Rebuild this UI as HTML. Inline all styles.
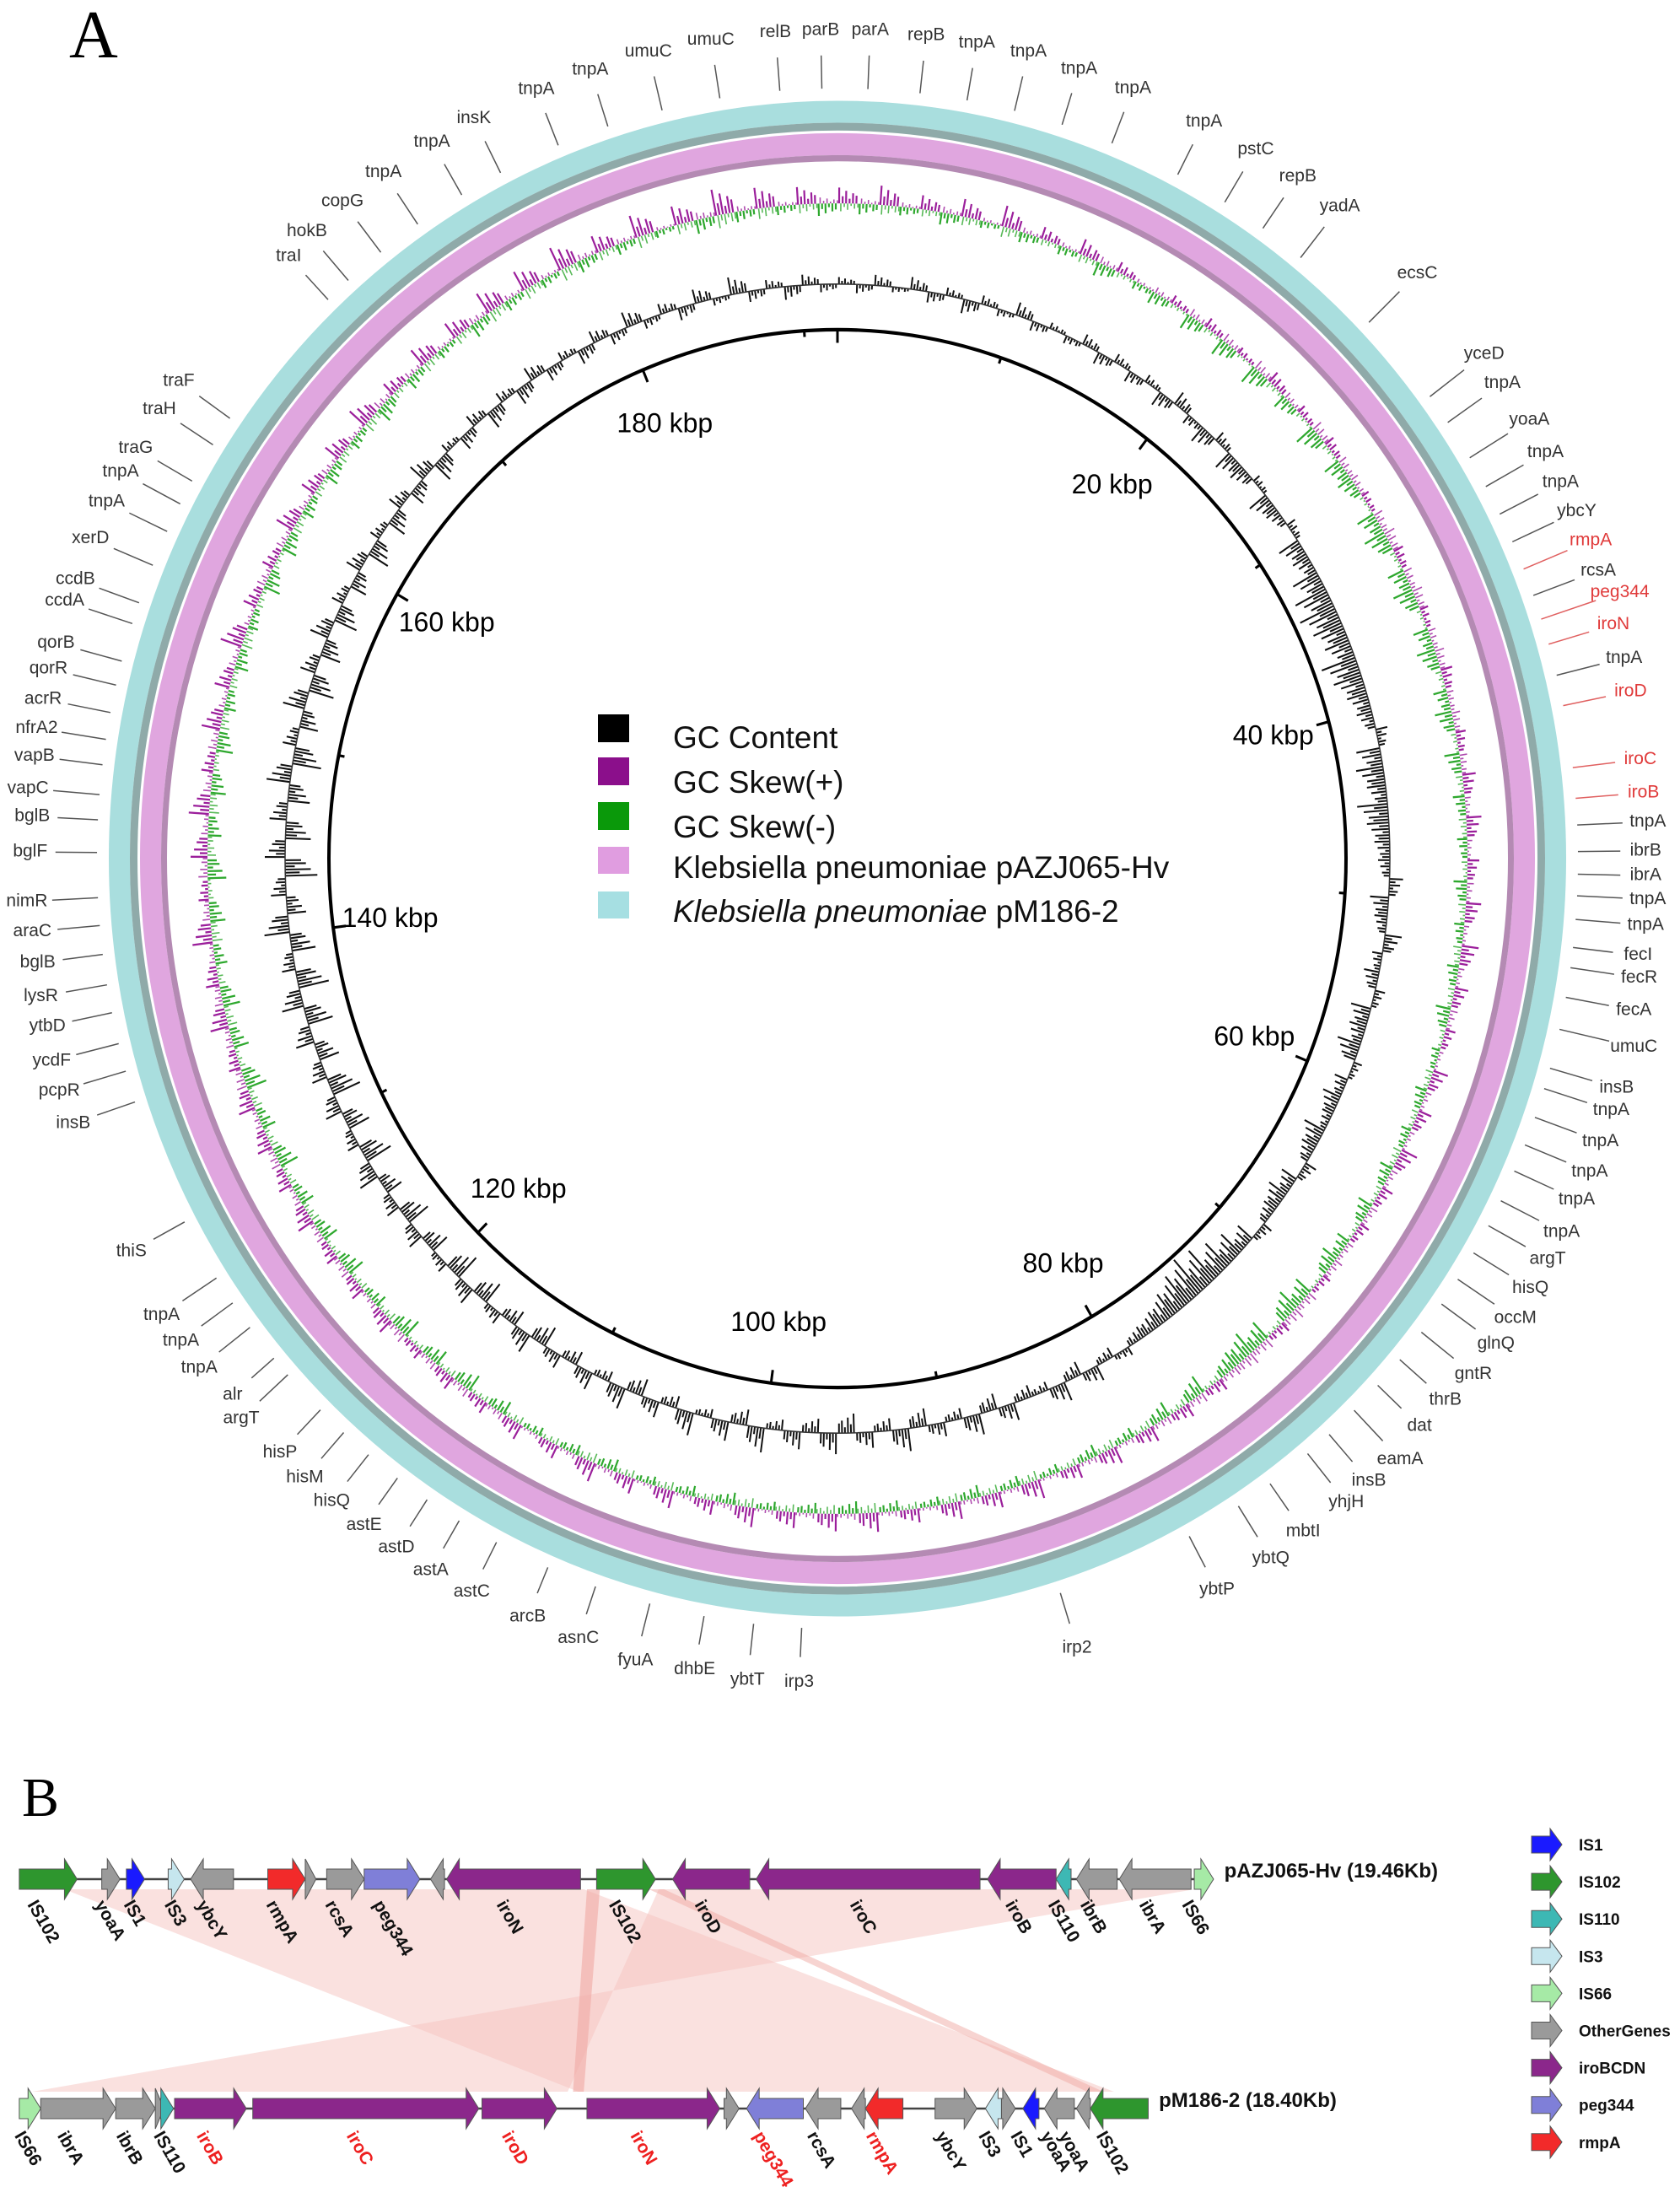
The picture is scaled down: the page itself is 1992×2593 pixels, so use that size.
<!DOCTYPE html>
<html><head><meta charset="utf-8"><style>
html,body{margin:0;padding:0;background:#fff;}
svg{display:block;font-family:"Liberation Sans",sans-serif;}
</style></head><body>
<svg id="fig" width="1992" height="2593" viewBox="0 0 1992 2593" xmlns="http://www.w3.org/2000/svg">
<text x="82" y="68" font-family="Liberation Serif,serif" font-size="80">A</text>
<text x="26" y="2153" font-family="Liberation Serif,serif" font-size="66">B</text>
<g id="circ" transform="translate(993,1018) scale(1,1.04)">
<circle r="851.5" fill="none" stroke="#a9dede" stroke-width="25"/>
<circle r="834.5" fill="none" stroke="#8faaa9" stroke-width="9"/>
<circle r="814.5" fill="none" stroke="#e0a6df" stroke-width="25"/>
<circle r="798.5" fill="none" stroke="#b48ab3" stroke-width="7"/>
<circle r="603" fill="none" stroke="#000" stroke-width="4"/>
<g id="gcg"></g><g id="skg"></g><g id="tk"></g>
</g>
<g id="ticklabels"></g>
<g id="legendA">
<rect x="709" y="847" width="37" height="33" fill="#000"/>
<rect x="709" y="898" width="37" height="33" fill="#8b0f8b"/>
<rect x="709" y="951" width="37" height="33" fill="#0a990a"/>
<rect x="709" y="1004" width="37" height="32" fill="#e09de0"/>
<rect x="709" y="1057" width="37" height="32" fill="#a6dfe2"/>
<g font-size="37" fill="#111">
<text x="798" y="887">GC Content</text>
<text x="798" y="940">GC Skew(+)</text>
<text x="798" y="993">GC Skew(-)</text>
<text x="798" y="1041">Klebsiella pneumoniae pAZJ065-Hv</text>
<text x="798" y="1093"><tspan font-style="italic">Klebsiella pneumoniae</tspan> pM186-2</text>
</g></g>
<g id="genelabels"></g>
<g id="panelB"></g>
</svg>
<script>
const NS="http://www.w3.org/2000/svg";
const CX=993,CY=1018,SY=1.04,TOTAL=192;
const gcValues=[8,-10,12,-6,14,-12,9,-16,10,-8,15,-11,7,-9,12,-14,
10,-13,9,-17,16,-11,-20,12,-22,-18,9,-24,-15,11,-26,-20,
-32,-40,-44,-36,-30,-42,-34,-24,-18,14,-28,-32,-22,-36,-26,-18,
-14,16,-22,-15,20,-12,-18,12,-24,-20,-28,10,-16,-22,-13,-26,
-18,14,-20,-24,-16,12,-22,-30,-36,-44,-48,-40,-30,-20,-14,10,
-12,18,-16,22,-10,-14,20,-18,24,-12,16,-20,26,-14,18,-22,
24,-16,20,-12,28,-18,22,-10,26,-14,18,-20,24,-12,20,-16,
16,-24,22,-18,14,-26,20,-30,12,-22,18,-28,16,-20,24,-32,
14,-26,20,-34,18,-24,22,-30,26,-36,16,-28,30,-22,18,-38,
24,-30,20,-26,28,-34,16,-22,26,-30,18,-24,22,-28,14,-20,
18,-26,12,-22,16,-18,20,-24,10,-16,14,-20,12,-18,16,-14,
10,-16,14,-12,18,-10,12,-14,16,-8,20,-12,10,-15,12,-9];
const skewValues=[18,-12,22,-10,16,-14,20,-8,24,-12,14,-10,18,-16,12,-9,
-14,10,-18,12,-20,8,-22,14,-16,10,-24,12,-20,-18,9,-22,
-26,12,-20,-24,10,-18,-22,14,-16,-20,12,-18,16,-14,18,-12,
14,-16,18,-12,20,-14,16,-18,12,-10,18,-14,16,-12,20,-16,
14,-18,12,-16,-20,10,-22,-26,12,-24,-28,-20,14,-22,16,-18,
18,-12,20,-14,16,-10,22,-12,18,-14,20,-10,16,-12,22,-14,
20,-12,18,-10,22,-14,16,-12,20,-10,18,-14,22,-12,16,-10,
18,-16,14,-20,16,-18,12,-22,18,-14,16,-20,14,-18,20,-16,
16,-22,18,-16,20,-24,14,-18,22,-20,16,-14,24,-18,12,-22,
20,-16,24,-18,14,-20,22,-14,18,-16,26,-12,16,-20,14,-18,
22,-14,18,-16,20,-12,24,-18,16,-14,22,-10,20,-16,26,-12,
24,-10,28,-14,20,-12,26,-8,22,-16,30,-12,24,-10,20,-14];
const tickKbp=[20,40,60,80,100,120,140,160,180];
const tickText=["20 kbp","40 kbp","60 kbp","80 kbp","100 kbp","120 kbp","140 kbp","160 kbp","180 kbp"];
function ang(kbp){return kbp/TOTAL*2*Math.PI;}
function pt(r,a){return [r*Math.sin(a),-r*Math.cos(a)];}
const SUB=[1,0.45,0.8,0.3,0.65,0.5];
function spikes(r,v,a0,a1){let d="";SUB.forEach((f,j)=>{const a=a0+(a1-a0)*(j+0.5)/SUB.length;const p=pt(r,a),q=pt(r+v*f,a);d+=`M${p[0].toFixed(1)},${p[1].toFixed(1)}L${q[0].toFixed(1)},${q[1].toFixed(1)}`;});return d;}
const gcg=document.getElementById("gcg"),skg=document.getElementById("skg"),tk=document.getElementById("tk");
const binW=TOTAL/gcValues.length;
gcValues.forEach((v,i)=>{const a0=ang(i*binW),a1=ang((i+1)*binW);
const p=document.createElementNS(NS,"path");p.setAttribute("d",spikes(655,v,a0,a1));
p.setAttribute("stroke","#111");p.setAttribute("stroke-width","2");p.setAttribute("fill","none");


gcg.appendChild(p);});
const base=document.createElementNS(NS,"circle");base.setAttribute("r","655");base.setAttribute("fill","none");base.setAttribute("stroke","#333");base.setAttribute("stroke-width","1.5");gcg.appendChild(base);
const sW=TOTAL/skewValues.length;
skewValues.forEach((v,i)=>{const a0=ang(i*sW),a1=ang((i+1)*sW);
const p=document.createElementNS(NS,"path");p.setAttribute("d",spikes(747,v,a0,a1));
p.setAttribute("stroke",v>0?"#9b1f9b":"#2ea82e");p.setAttribute("stroke-width","2.2");p.setAttribute("fill","none");


skg.appendChild(p);
const c=document.createElementNS(NS,"path");c.setAttribute("d",spikes(747,-v*0.5,a0+(a1-a0)*0.08,a1+(a1-a0)*0.08));
c.setAttribute("stroke",v>0?"#2ea82e":"#9b1f9b");c.setAttribute("stroke-width","1.6");c.setAttribute("fill","none");c.setAttribute("stroke-opacity","0.8");


skg.appendChild(c);});
for(let k=0;k<TOTAL;k+=10){const a=ang(k);const q0=pt(603,a),q1=pt(k%20==0?588:596,a);
const l=document.createElementNS(NS,"line");l.setAttribute("x1",q0[0]);l.setAttribute("y1",q0[1]);l.setAttribute("x2",q1[0]);l.setAttribute("y2",q1[1]);l.setAttribute("stroke","#000");l.setAttribute("stroke-width","3");


tk.appendChild(l);}
const tl=document.getElementById("ticklabels");
tickKbp.forEach((k,i)=>{const a=ang(k);const x=CX+535*Math.sin(a),y=CY-535*SY*Math.cos(a);
const t=document.createElementNS(NS,"text");t.setAttribute("x",x);t.setAttribute("y",y);t.setAttribute("text-anchor","middle");t.setAttribute("dominant-baseline","middle");t.setAttribute("font-size","32");t.textContent=tickText[i];


tl.appendChild(t);});
const geneLabels=[["tnpA",548,65],["umuC",602,48],["umuC",660,37],["relB",720,30],["parB",762,28],["parA",808,28],["repB",860,33],["tnpA",907,40],["tnpA",955,48],["tnpA",1002,64],["tnpA",1052,82],["tnpA",1118,113],["pstC",1166,139],["repB",1205,164],["yadA",1244,192],["ecsC",1316,254],["yceD",1378,329],["tnpA",1395,356],["yoaA",1420,390],["tnpA",1435,420],["tnpA",1449,448],["ybcY",1464,475],["rmpA",1477,502,1],["rcsA",1484,530],["peg344",1504,550,1],["iroN",1498,580,1],["tnpA",1508,611],["iroD",1514,642,1],["iroC",1523,705,1],["iroB",1526,736,1],["tnpA",1530,763],["ibrB",1528,790],["ibrA",1528,813],["tnpA",1530,835],["tnpA",1528,859],["fecI",1521,887],["fecR",1522,908],["fecA",1517,938],["umuC",1517,972],["insB",1501,1010],["tnpA",1496,1031],["tnpA",1486,1060],["tnpA",1476,1088],["tnpA",1464,1114],["tnpA",1450,1144],["argT",1437,1169],["hisQ",1421,1196],["occM",1407,1224],["glnQ",1389,1248],["gntR",1368,1276],["thrB",1342,1300],["dat",1318,1324],["eamA",1300,1355],["insB",1271,1375],["yhjH",1250,1395],["mbtI",1210,1422],["ybtQ",1180,1447],["ybtP",1130,1476],["irp2",1000,1530],["irp3",742,1562],["ybtT",694,1560],["dhbE",645,1550],["fyuA",590,1542],["asnC",537,1521],["arcB",490,1501],["astC",438,1478],["astA",400,1458],["astD",368,1437],["astE",338,1416],["hisQ",308,1394],["hisM",283,1372],["hisP",260,1349],["argT",224,1317],["alr",216,1295],["tnpA",185,1270],["tnpA",168,1245],["tnpA",150,1221],["thiS",122,1162],["insB",68,1043],["pcpR",55,1013],["ycdF",48,985],["ytbD",44,953],["lysR",38,925],["bglB",35,894],["araC",30,865],["nimR",25,837],["bglF",28,791],["bglB",30,758],["vapC",26,732],["vapB",32,702],["nfrA2",34,676],["acrR",40,649],["qorR",45,621],["qorB",52,597],["ccdA",60,558],["ccdB",70,538],["xerD",84,500],["tnpA",99,466],["tnpA",112,438],["traG",126,416],["traH",148,380],["traF",166,354],["traI",268,238],["hokB",285,215],["copG",318,187],["tnpA",356,160],["tnpA",401,132],["insK",440,110],["tnpA",498,83]];
const gl=document.getElementById("genelabels");
geneLabels.forEach(g=>{const x=g[1]*1.277,y=g[2]*1.277;const col=g[3]?"#e03a3a":"#333";
const a=Math.atan2(x-CX,-(y-CY)/SY);const ex=CX+878*Math.sin(a),ey=CY-878*SY*Math.cos(a);
const dx=ex-x,dy=ey-y,d=Math.hypot(dx,dy);
if(d>40){const l=document.createElementNS(NS,"line");const s=30/d;l.setAttribute("x1",x+dx*s);l.setAttribute("y1",y+dy*s);l.setAttribute("x2",ex);l.setAttribute("y2",ey);l.setAttribute("stroke",g[3]?"#e06060":"#555");l.setAttribute("stroke-width","1.5");


gl.appendChild(l);}
const t=document.createElementNS(NS,"text");t.setAttribute("x",x);t.setAttribute("y",y);t.setAttribute("text-anchor","middle");t.setAttribute("dominant-baseline","middle");t.setAttribute("font-size","21");t.setAttribute("fill",col);t.textContent=g[0];


gl.appendChild(t);});
const PB=document.getElementById("panelB");const XS=1.270;
const COL={IS1:"#1a1aff",IS102:"#2e962e",IS110:"#3db8b4",IS3:"#c6e6ee",IS66:"#a6eaa6",Other:"#9a9a9a",iro:"#8b278b",peg:"#7f7fd8",rmp:"#f22a2a"};
function el(tag,attrs,name){const e=document.createElementNS(NS,tag);for(const k in attrs)e.setAttribute(k,attrs[k]);PB.appendChild(e);return e;}
el("polygon",{points:`${60*XS},2240 ${545*XS},2240 ${1040*XS},2480 ${540*XS},2480`,fill:"#f6c4bf","fill-opacity":"0.5"},"synteny-link-1");
el("polygon",{points:`${615*XS},2240 ${1115*XS},2240 ${30*XS},2480 ${530*XS},2480`,fill:"#f6c4bf","fill-opacity":"0.5"},"synteny-link-2");
el("polygon",{points:`${606*XS},2240 ${620*XS},2240 ${1030*XS},2480 ${1015*XS},2480`,fill:"#f0a9a3","fill-opacity":"0.5"},"synteny-link-3");
el("polygon",{points:`${548*XS},2240 ${560*XS},2240 ${545*XS},2480 ${535*XS},2480`,fill:"#f0a9a3","fill-opacity":"0.6"},"synteny-link-4");
const track1=[["IS102",18,72,1,"IS102",0],["yoaA",95,112,1,"Other",0],["IS1",118,135,1,"IS1",0],["IS3",157,172,1,"IS3",0],["ybcY",178,218,-1,"Other",0],["rmpA",250,285,1,"rmp",1],["",285,295,1,"Other",0],["rcsA",305,340,1,"Other",0],["peg344",340,392,1,"peg",1],["",402,415,-1,"Other",0],["iroN",417,542,-1,"iro",1],["IS102",557,612,1,"IS102",0],["iroD",628,700,-1,"iro",1],["iroC",706,915,-1,"iro",1],["iroB",922,986,-1,"iro",1],["IS110",986,1000,-1,"IS110",0],["ibrB",1005,1043,-1,"Other",0],["ibrA",1045,1112,-1,"Other",0],["IS66",1115,1133,1,"IS66",0]];
const lab1=[["IS102",22],["yoaA",85],["IS1",112],["IS3",150],["ybcY",180],["rmpA",245],["rcsA",300],["peg344",345],["iroN",460],["IS102",565],["iroD",645],["iroC",790],["iroB",935],["IS110",975],["ibrB",1005],["ibrA",1060],["IS66",1100]];
const track2=[["IS66",18,38,1,"IS66",0],["ibrA",38,108,1,"Other",0],["ibrB",108,145,1,"Other",0],["",145,153,1,"Other",0],["IS110",150,162,1,"IS110",0],["iroB",163,230,1,"iro",1],["iroC",236,447,1,"iro",1],["iroD",450,520,1,"iro",1],["iroN",548,672,1,"iro",1],["",676,690,1,"Other",0],["peg344",697,750,-1,"peg",1],["rcsA",752,785,-1,"Other",0],["",795,808,-1,"Other",0],["rmpA",808,843,-1,"rmp",1],["ybcY",873,912,1,"Other",0],["IS3",920,935,-1,"IS3",0],["",935,948,1,"Other",0],["IS1",955,970,-1,"IS1",0],["yoaA",975,1003,-1,"Other",0],["",1005,1018,-1,"Other",0],["IS102",1018,1072,-1,"IS102",0]];
const lab2=[["IS66",10],["ibrA",50],["ibrB",105],["IS110",140],["iroB",180,1],["iroC",320,1],["iroD",465,1],["iroN",585,1],["peg344",700,1],["rcsA",750],["rmpA",805,1],["ybcY",870],["IS3",910],["IS1",940],["yoaA",968],["yoaA",985],["IS102",1020]];
function arrow(x1,x2,dir,y,bh,hh,hl){const L=x2-x1;hl=Math.min(hl,L);
if(dir>0){return `${x1},${y-bh} ${x2-hl},${y-bh} ${x2-hl},${y-hh} ${x2},${y} ${x2-hl},${y+hh} ${x2-hl},${y+bh} ${x1},${y+bh}`;}
return `${x2},${y-bh} ${x1+hl},${y-bh} ${x1+hl},${y-hh} ${x1},${y} ${x1+hl},${y+hh} ${x1+hl},${y+bh} ${x2},${y+bh}`;}
function drawTrack(genes,labs,y,x0,x1,title,ly){
el("line",{x1:x0*XS,y1:y,x2:x1*XS,y2:y,stroke:"#444","stroke-width":"2.5"},"track-backbone");
genes.forEach(g=>{el("polygon",{points:arrow(g[1]*XS,g[2]*XS,g[3],y,12,24,15),fill:COL[g[4]],stroke:"#555","stroke-width":"1"},"gene-arrow-"+(g[0]||"other"));});
labs.forEach(l=>{const t=el("text",{transform:`translate(${l[1]*XS+4},${ly}) rotate(60)`,"font-size":"21","font-weight":"bold",fill:l[2]?"#ee2020":"#111"},"gene-map-label");t.textContent=l[0];});
const t=el("text",{x:(x1+10)*XS,y:y-2,"font-size":"24","font-weight":"bold",fill:"#111"},"track-title");t.textContent=title;}
drawTrack(track1,lab1,2228,18,1133,"pAZJ065-Hv (19.46Kb)",2258);
drawTrack(track2,lab2,2500,18,1072,"pM186-2 (18.40Kb)",2532);
const legB=[["IS1","IS1"],["IS102","IS102"],["IS110","IS110"],["IS3","IS3"],["IS66","IS66"],["Other","OtherGenes"],["iro","iroBCDN"],["peg","peg344"],["rmp","rmpA"]];
legB.forEach((g,i)=>{const y=2187+i*44.1;
el("polygon",{points:arrow(1816,1852,1,y,10,19,14),fill:COL[g[0]],stroke:"#555","stroke-width":"1"},"legend-b-swatch");
const t=el("text",{x:1872,y:y+7,"font-size":"19","font-weight":"bold",fill:"#111"},"legend-b-entry");t.textContent=g[1];});
</script>
</body></html>
